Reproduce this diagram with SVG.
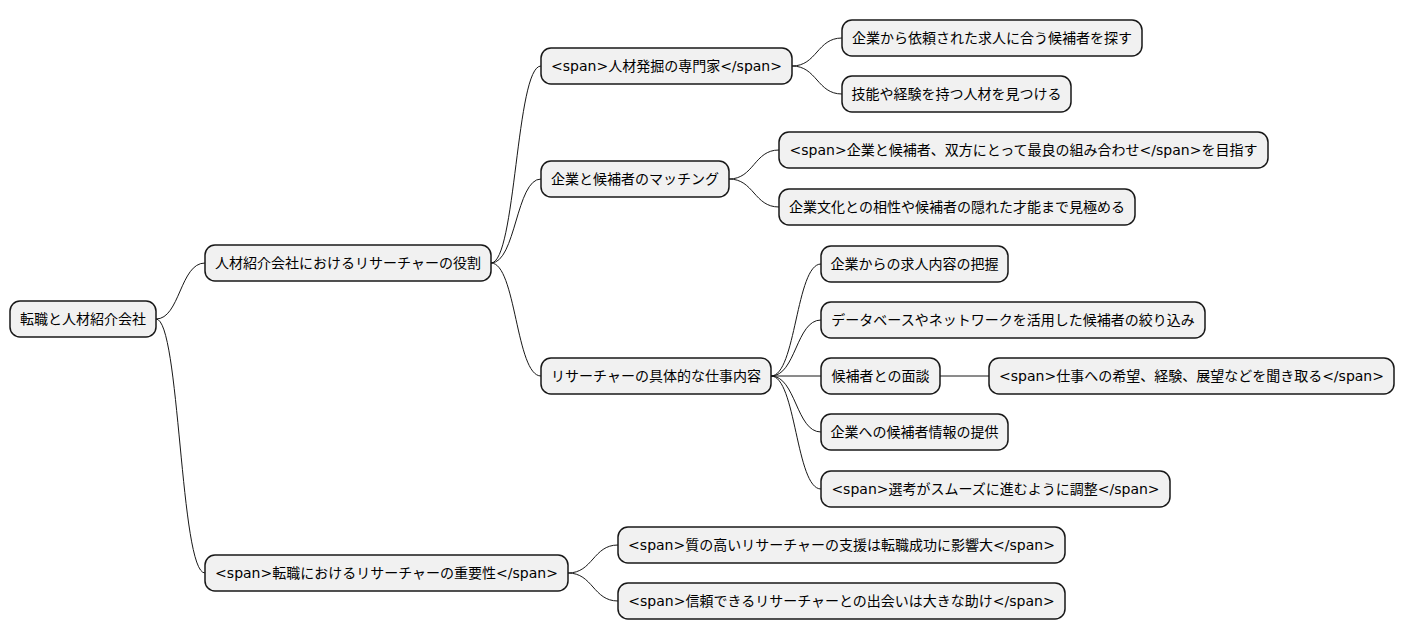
<svg xmlns="http://www.w3.org/2000/svg" width="1405" height="640" viewBox="0 0 1405 640">
<style>
.n rect{fill:#f1f1f1;stroke:#181818;stroke-width:1.5}
.n text{font-family:"DejaVu Sans","Noto Sans CJK JP",sans-serif;font-size:14px;fill:#000;text-anchor:middle;dominant-baseline:central}
#c path{fill:none;stroke:#181818;stroke-width:1}
</style>
<rect width="1405" height="640" fill="#fff"/>
<g id="c">
<path d="M156,319 C180,319 180,263 205,263"/>
<path d="M156,319 C180,319 180,573 205,573"/>
<path d="M491,263 C516,263 516,66 541,66"/>
<path d="M491,263 C516,263 516,179 541,179"/>
<path d="M491,263 C516,263 516,376 541,376"/>
<path d="M792,66 C817,66 817,38 842,38"/>
<path d="M792,66 C817,66 817,94 842,94"/>
<path d="M729,179 C754,179 754,150 779,150"/>
<path d="M729,179 C754,179 754,207 779,207"/>
<path d="M771,376 C796,376 796,264 821,264"/>
<path d="M771,376 C796,376 796,320 821,320"/>
<path d="M771,376 L821,376"/>
<path d="M771,376 C796,376 796,432 821,432"/>
<path d="M771,376 C796,376 796,489 821,489"/>
<path d="M940,376 L989,376"/>
<path d="M568,573 C593,573 593,545 618,545"/>
<path d="M568,573 C593,573 593,601 618,601"/>
</g>
<g id="n0" class="n"><rect x="10" y="301" width="146" height="36" rx="10"/><text x="83" y="319">転職と人材紹介会社</text></g>
<g id="n1" class="n"><rect x="205" y="245" width="286" height="36" rx="10"/><text x="348" y="263">人材紹介会社におけるリサーチャーの役割</text></g>
<g id="n2" class="n"><rect x="541" y="48" width="251" height="36" rx="10"/><text x="666.5" y="66">&lt;span&gt;人材発掘の専門家&lt;/span&gt;</text></g>
<g id="n3" class="n"><rect x="842" y="20" width="300" height="36" rx="10"/><text x="992" y="38">企業から依頼された求人に合う候補者を探す</text></g>
<g id="n4" class="n"><rect x="842" y="76" width="229" height="36" rx="10"/><text x="956.5" y="94">技能や経験を持つ人材を見つける</text></g>
<g id="n5" class="n"><rect x="541" y="161" width="188" height="36" rx="10"/><text x="635" y="179">企業と候補者のマッチング</text></g>
<g id="n6" class="n"><rect x="779" y="132" width="489" height="36" rx="10"/><text x="1023.5" y="150">&lt;span&gt;企業と候補者、双方にとって最良の組み合わせ&lt;/span&gt;を目指す</text></g>
<g id="n7" class="n"><rect x="779" y="189" width="356" height="36" rx="10"/><text x="957" y="207">企業文化との相性や候補者の隠れた才能まで見極める</text></g>
<g id="n8" class="n"><rect x="541" y="358" width="230" height="36" rx="10"/><text x="656" y="376">リサーチャーの具体的な仕事内容</text></g>
<g id="n9" class="n"><rect x="821" y="246" width="187" height="36" rx="10"/><text x="914.5" y="264">企業からの求人内容の把握</text></g>
<g id="n10" class="n"><rect x="821" y="302" width="384" height="36" rx="10"/><text x="1013" y="320">データベースやネットワークを活用した候補者の絞り込み</text></g>
<g id="n11" class="n"><rect x="821" y="358" width="119" height="36" rx="10"/><text x="880.5" y="376">候補者との面談</text></g>
<g id="n12" class="n"><rect x="989" y="358" width="405" height="36" rx="10"/><text x="1191.5" y="376">&lt;span&gt;仕事への希望、経験、展望などを聞き取る&lt;/span&gt;</text></g>
<g id="n13" class="n"><rect x="821" y="414" width="187" height="36" rx="10"/><text x="914.5" y="432">企業への候補者情報の提供</text></g>
<g id="n14" class="n"><rect x="821" y="471" width="349" height="36" rx="10"/><text x="995.5" y="489">&lt;span&gt;選考がスムーズに進むように調整&lt;/span&gt;</text></g>
<g id="n15" class="n"><rect x="205" y="555" width="363" height="36" rx="10"/><text x="386.5" y="573">&lt;span&gt;転職におけるリサーチャーの重要性&lt;/span&gt;</text></g>
<g id="n16" class="n"><rect x="618" y="527" width="447" height="36" rx="10"/><text x="841.5" y="545">&lt;span&gt;質の高いリサーチャーの支援は転職成功に影響大&lt;/span&gt;</text></g>
<g id="n17" class="n"><rect x="618" y="583" width="447" height="36" rx="10"/><text x="841.5" y="601">&lt;span&gt;信頼できるリサーチャーとの出会いは大きな助け&lt;/span&gt;</text></g>
</svg>
